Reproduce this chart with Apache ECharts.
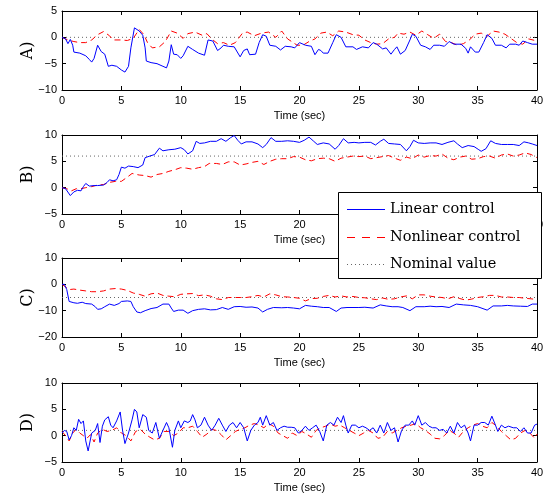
<!DOCTYPE html>
<html>
<head>
<meta charset="utf-8">
<script src="https://cdn.jsdelivr.net/npm/echarts@6/dist/echarts.min.js"></script>
<style>html,body{margin:0;padding:0;background:#fff}#c{width:552px;height:495px}</style>
</head>
<body>
<div id="c"></div>
<script>
// ---- data (time in seconds, value) ----
const seriesNames = ['Linear control', 'Nonlinear control', 'Nominal value'];
const panelLabels = ['A)', 'B)', 'C)', 'D)'];
const xRange = [0, 40, 5];
const yRanges = [[-10, 5, 5], [-5, 10, 5], [-20, 10, 10], [-5, 10, 5]];
const nominalValues = [0, 6, -5, 1];

const linA = [[0,0],[0.3,-0.3],[0.5,-1.2],[0.7,-0.4],[0.9,-1.5],[1.0,-2.8],[1.5,-3.0],[2.0,-3.5],[2.3,-4.2],[2.5,-4.7],[2.7,-4.0],[3.0,-1.5],[3.3,-2.7],[3.6,-3.2],[3.9,-5.5],[4.2,-5.3],[4.6,-5.5],[5.0,-6.2],[5.3,-6.6],[5.6,-5.5],[5.8,-2],[6.1,1.8],[6.5,1.2],[6.8,0.4],[7.0,-2],[7.1,-4.5],[7.5,-4.8],[8.0,-5.0],[8.5,-5.5],[8.8,-5.8],[9.0,-4.5],[9.2,-1.4],[9.4,-3.2],[9.7,-3.3],[10.0,-4.0],[10.2,-3.5],[10.6,-1.7],[11.0,-2.3],[11.5,-3.0],[12.0,-3.4],[12.3,-0.5],[12.7,-0.7],[13.1,-2.5],[13.4,-2.0],[13.6,-1.5],[14.0,-1.7],[14.5,-1.8],[15.0,-3.7],[15.3,-2.5],[15.6,-2.2],[15.8,-3.3],[16.3,-3.2],[16.6,-1],[16.9,0.5],[17.2,0.2],[17.5,-1.5],[18.0,-1.7],[18.4,-2.4],[18.8,-1.7],[19.3,-1.8],[19.6,-2.0],[20.0,-1.0],[20.5,-1.5],[21.0,-1.7],[21.3,-3.3],[21.6,-2.3],[21.8,-2.5],[22.0,-3.0],[22.4,-3.0],[22.8,-1.0],[23.1,0.5],[23.5,0],[23.9,-1.8],[24.5,-1.8],[24.8,-2.3],[25.3,-1.8],[25.8,-2.0],[26.2,-1.0],[26.5,-1.3],[27.0,-2.2],[27.3,-2.0],[27.7,-3.2],[28.0,-2.3],[28.2,-1.8],[28.5,-3.2],[28.9,-2.5],[29.3,-0.5],[29.5,0.6],[29.8,0.2],[30.2,-1.5],[30.6,-1.8],[31.0,-2.3],[31.3,-1.5],[31.8,-1.5],[32.2,-1.7],[32.6,-0.8],[33.0,-1.3],[33.6,-1.3],[34.0,-2.1],[34.2,-3.0],[34.4,-1.8],[34.8,-2.8],[35.1,-2.8],[35.5,-1],[35.8,0.5],[36.2,-0.2],[36.5,-1.5],[37.0,-1.5],[37.4,-2.0],[37.7,-1.3],[38.2,-1.3],[38.5,-1.5],[38.8,-0.7],[39.2,-1.0],[39.6,-1.3],[40,-1.3]];
const nonA = [[0,0],[0.5,-0.5],[1,-0.8],[1.5,-1.0],[2,-1.0],[2.5,-0.5],[3,0.5],[3.5,1.1],[4,0.3],[4.3,-0.5],[5,-0.5],[5.5,-0.6],[6,-0.2],[6.5,1.5],[6.9,0.5],[7.2,-1.0],[7.6,-2.0],[8.2,-1.8],[8.7,-0.8],[9.2,1.2],[9.7,0.8],[10.2,-0.2],[10.6,0.7],[11.2,1.0],[11.8,0.4],[12.2,0.7],[12.6,-0.3],[13.1,-1.2],[13.6,-1.0],[14.1,-1.5],[14.6,-1.0],[15.2,0.8],[15.6,1.0],[16.2,0.3],[16.8,0.8],[17.4,1.0],[18.0,0.0],[18.5,1.2],[19,-0.3],[19.8,-1.5],[20.3,-1.5],[20.8,-0.8],[21.3,-0.3],[21.8,0.8],[22.3,1.0],[22.8,0.3],[23.3,1.2],[23.9,1.0],[24.5,0.5],[25.0,0.4],[25.5,-0.5],[26.0,-1.0],[26.5,-1.3],[27.0,-1.2],[27.5,-0.3],[28.0,0.0],[28.3,0.8],[28.8,0.6],[29.3,1.0],[29.8,0.4],[30.3,1.2],[30.8,0.5],[31.3,-0.2],[31.8,0.6],[32.3,-0.8],[32.8,-1.0],[33.3,-1.5],[33.8,-1.2],[34.3,-0.5],[34.8,0.6],[35.3,0.8],[35.8,0.2],[36.3,1.2],[36.8,1.0],[37.3,0.6],[37.8,-0.2],[38.3,-1.0],[38.8,-1.3],[39.3,-0.3],[40,-0.7]];

const linB = [[0,0],[0.3,-0.2],[0.7,-1.5],[1.0,-0.8],[1.3,-0.5],[1.6,-0.6],[1.8,0.2],[2.0,0.8],[2.3,0.3],[2.7,0.4],[3.0,0.4],[3.5,0.5],[3.8,1.0],[4.0,1.5],[4.3,1.3],[4.6,1.5],[4.8,2.5],[5.0,3.9],[5.3,3.7],[5.6,4.1],[6.0,4.0],[6.4,3.8],[6.8,4.3],[7.0,5.7],[7.4,6.0],[7.8,6.3],[8.2,7.5],[8.5,7.0],[9.0,7.2],[9.5,7.3],[10.0,7.6],[10.3,7.2],[10.6,6.4],[11.0,7.0],[11.3,8.8],[11.6,8.4],[12.0,8.5],[12.5,8.8],[13.0,8.8],[13.4,9.3],[13.8,8.8],[14.2,9.5],[14.5,9.9],[14.8,9.0],[15.1,8.3],[15.5,8.7],[16.0,8.7],[16.5,8.3],[16.9,7.6],[17.2,8.2],[17.6,9.5],[18.0,8.8],[18.5,8.8],[19.0,8.9],[19.5,8.8],[20.0,8.6],[20.4,9.0],[20.8,9.6],[21.2,8.8],[21.5,8.2],[22.0,8.5],[22.5,8.3],[23.0,7.3],[23.3,8.0],[23.7,9.3],[24.1,8.5],[24.6,8.6],[25.0,8.5],[25.5,8.6],[26.0,8.6],[26.4,8.1],[26.8,8.8],[27.1,9.2],[27.5,8.4],[28.0,8.3],[28.5,8.2],[29.0,7.0],[29.3,7.8],[29.6,9.0],[30.0,8.5],[30.5,8.4],[31.0,8.5],[31.5,8.5],[32.0,8.2],[32.5,8.6],[33.0,8.9],[33.3,8.3],[33.7,7.6],[34.2,8.0],[34.7,7.8],[35.1,7.2],[35.3,6.9],[35.7,7.4],[36.1,8.9],[36.5,8.4],[37.0,8.2],[37.5,8.2],[38.0,8.2],[38.5,8.0],[38.9,8.7],[39.3,8.5],[39.6,8.3],[40,8.0]];
const nonB = [[0,0],[0.4,-0.2],[0.8,-0.6],[1.2,-0.2],[1.6,-0.2],[2.0,0],[2.5,0.2],[3.0,0.5],[3.5,0.6],[4.0,1.0],[4.5,1.2],[5.0,1.2],[5.5,2.0],[5.9,2.7],[6.5,2.4],[7.0,2.3],[7.5,2.0],[8.0,2.5],[8.5,2.7],[9.0,3.1],[9.5,3.4],[10.0,3.8],[10.5,3.7],[11.0,3.5],[11.5,3.8],[12.0,4.0],[12.4,4.6],[13.0,4.6],[13.5,4.4],[14.0,4.9],[14.5,4.9],[15.0,4.3],[15.5,4.5],[16.0,4.8],[16.5,5.0],[17.0,4.4],[17.5,5.0],[18.0,5.4],[18.5,5.5],[19.0,5.5],[19.5,5.9],[20.0,5.8],[20.5,5.3],[21.0,5.1],[21.5,5.5],[22.0,5.6],[22.5,5.5],[23.0,5.0],[23.5,5.6],[24.0,5.8],[24.5,6.0],[25.0,5.9],[25.5,6.0],[26.0,5.5],[26.5,5.7],[27.0,5.9],[27.5,6.1],[28.0,5.6],[28.5,5.2],[29.0,5.8],[29.5,5.5],[30.0,6.2],[30.5,5.8],[31.0,6.1],[31.5,6.0],[32.0,6.4],[32.5,5.6],[33.0,5.3],[33.5,5.8],[34.0,6.0],[34.5,5.4],[35.0,5.5],[35.5,5.9],[36.0,6.0],[36.5,5.6],[37.0,6.2],[37.5,6.4],[38.0,6.0],[38.5,6.2],[39.0,6.6],[39.5,6.3],[40,5.7]];

const linC = [[0,0],[0.2,0],[0.4,-2],[0.6,-6.5],[1.0,-7.0],[1.3,-7.2],[1.7,-6.8],[2.0,-7.3],[2.5,-7.5],[2.8,-8.5],[3.0,-9.5],[3.3,-9.3],[3.6,-8.5],[4.0,-7.5],[4.4,-8.0],[4.8,-7.3],[5.0,-6.5],[5.5,-6.3],[5.8,-6.5],[6.0,-8.5],[6.3,-10.5],[6.6,-10.8],[7.0,-10.0],[7.5,-9.2],[8.0,-8.8],[8.5,-7.5],[9.0,-7.5],[9.2,-9.0],[9.4,-10.3],[9.8,-9.8],[10.2,-9.8],[10.6,-11.0],[11.0,-10.0],[11.5,-9.5],[12.0,-9.3],[12.5,-9.7],[13.0,-9.6],[13.5,-8.8],[14.0,-9.5],[14.5,-8.5],[15.0,-8.4],[15.5,-8.7],[16.0,-8.6],[16.5,-9.0],[16.9,-10.5],[17.3,-9.5],[17.8,-8.8],[18.5,-8.9],[19.0,-8.8],[19.5,-9.0],[20.0,-9.3],[20.5,-8.0],[21.0,-8.3],[21.5,-8.5],[22.0,-8.8],[22.5,-8.8],[23.1,-10.3],[23.5,-9.0],[24.0,-8.8],[25.0,-8.8],[25.5,-8.7],[26.2,-9.0],[26.8,-7.8],[27.3,-8.2],[27.8,-8.5],[28.3,-8.5],[28.7,-8.8],[29.3,-10.0],[29.8,-8.5],[30.5,-8.5],[31.0,-8.3],[31.5,-8.5],[32.0,-8.4],[32.6,-8.8],[33.2,-7.5],[33.8,-7.8],[34.4,-8.0],[35.0,-8.5],[35.8,-9.8],[36.3,-8.2],[37.0,-8.2],[37.5,-8.0],[38.0,-8.2],[38.6,-8.3],[39.2,-8.4],[39.6,-7.5],[40,-7.5]];
const nonC = [[0,0],[0.3,-1],[0.6,-2.0],[1.0,-1.8],[1.5,-2.2],[2.0,-2.5],[2.5,-2.8],[3.0,-2.8],[3.5,-2.5],[4.0,-1.8],[4.5,-1.6],[5.0,-1.8],[5.5,-2.3],[6.0,-3.3],[6.5,-3.8],[7.0,-4.5],[7.5,-3.6],[8.0,-3.3],[8.5,-4.2],[9.0,-4.5],[9.5,-4.7],[10.0,-3.8],[10.5,-3.6],[11.0,-3.5],[11.5,-4.3],[12.0,-4.0],[12.5,-4.5],[13.0,-5.5],[13.5,-5.8],[14.0,-5.0],[15.0,-5.0],[15.5,-5.0],[16.0,-4.7],[16.5,-4.2],[17.0,-4.8],[17.5,-3.6],[18.0,-4.0],[18.5,-4.7],[19.0,-4.8],[19.5,-5.0],[20.0,-5.3],[20.5,-6.3],[21.0,-5.4],[21.5,-5.3],[22.0,-4.6],[22.5,-4.2],[23.0,-4.8],[23.5,-4.4],[24.0,-4.8],[24.5,-4.6],[25.0,-5.0],[25.5,-5.1],[26.0,-5.5],[26.5,-5.8],[27.0,-5.2],[27.5,-5.7],[28.0,-5.5],[28.5,-4.8],[29.0,-4.4],[29.5,-5.5],[30.0,-4.0],[30.5,-4.0],[31.0,-4.5],[31.5,-4.8],[32.0,-5.0],[32.5,-5.5],[33.0,-4.7],[33.5,-5.4],[34.0,-6.0],[34.5,-5.6],[35.0,-5.0],[35.5,-4.7],[36.0,-4.2],[36.5,-4.2],[37.0,-4.8],[37.5,-4.8],[38.0,-5.0],[38.5,-5.0],[39.0,-5.3],[39.5,-5.5],[40,-5.8]];

const linD = [[0,0.5],[0.2,1.0],[0.4,0.8],[0.6,-0.8],[0.8,0],[1.0,1.5],[1.2,1.0],[1.4,3.1],[1.6,2.3],[1.8,2.8],[1.9,2.5],[2.0,-1.0],[2.2,-2.9],[2.5,0.5],[2.8,1.0],[3.0,2.3],[3.2,-1.3],[3.4,1.8],[3.6,3.0],[3.9,3.6],[4.1,2.0],[4.3,1.5],[4.6,2.8],[4.9,4.5],[5.1,1.0],[5.3,-1.5],[5.6,0.5],[5.9,3.0],[6.1,5.0],[6.3,4.5],[6.5,1.5],[6.8,4.0],[7.1,3.5],[7.3,1.0],[7.6,0.5],[7.9,2.5],[8.2,-0.5],[8.5,1.0],[8.8,2.5],[9.0,1.5],[9.3,-2.2],[9.5,1.0],[9.8,2.8],[10.0,1.5],[10.3,2.8],[10.6,2.5],[10.8,2.8],[11.0,4.0],[11.2,3.0],[11.4,1.5],[11.7,2.0],[12.0,3.5],[12.3,2.0],[12.6,1.0],[12.9,2.0],[13.2,3.3],[13.5,2.0],[13.8,0.8],[14.1,2.0],[14.4,2.5],[14.7,1.5],[15.0,2.5],[15.3,1.5],[15.6,-1.0],[15.9,1.0],[16.2,2.0],[16.5,2.5],[16.7,3.5],[16.9,2.0],[17.2,3.8],[17.5,2.0],[17.8,2.5],[18.1,1.0],[18.4,1.5],[18.7,1.8],[19.0,1.6],[19.3,1.6],[19.6,1.5],[19.9,0.5],[20.2,1.0],[20.5,1.8],[20.8,1.0],[21.1,1.5],[21.4,2.0],[21.7,0.8],[22.0,-1.0],[22.3,2.0],[22.6,2.5],[22.9,2.0],[23.2,3.5],[23.5,2.5],[23.7,3.8],[23.9,2.0],[24.1,0.5],[24.4,2.0],[24.7,2.0],[25.0,1.5],[25.3,1.8],[25.6,1.5],[25.9,1.0],[26.2,1.5],[26.5,0.5],[26.8,2.0],[27.1,0.5],[27.4,2.5],[27.7,1.0],[28.0,1.5],[28.3,-1.2],[28.6,1.0],[28.9,2.0],[29.2,2.0],[29.5,2.8],[29.7,2.0],[30.0,3.8],[30.3,2.0],[30.6,2.5],[30.9,1.8],[31.2,1.5],[31.5,1.5],[31.8,1.0],[32.1,1.2],[32.4,0.5],[32.7,1.8],[33.0,0.5],[33.3,2.5],[33.6,1.5],[33.9,2.0],[34.2,0.5],[34.4,-1.0],[34.7,2.0],[35.0,2.0],[35.3,2.5],[35.6,2.5],[35.9,2.0],[36.2,3.7],[36.5,2.0],[36.7,0.8],[37.0,2.0],[37.3,1.5],[37.6,1.8],[38.0,1.5],[38.3,1.5],[38.6,0.8],[38.9,1.5],[39.2,0.5],[39.5,0.5],[39.8,2.0],[40,2.2]];
const nonD = [[0,0.8],[0.3,0],[0.6,-1.0],[0.9,0.5],[1.2,1.2],[1.5,0.5],[1.8,0.0],[2.1,-0.5],[2.4,0.2],[2.7,-1.2],[3.0,0.5],[3.4,1.2],[3.8,0.8],[4.2,1.0],[4.6,1.5],[5.0,0.5],[5.4,0.0],[5.8,-1.0],[6.2,0.8],[6.6,1.2],[7.0,0.3],[7.4,-0.3],[7.8,-0.8],[8.2,-0.5],[8.6,0.8],[9.0,0.8],[9.4,0.0],[9.8,0.5],[10.2,1.5],[10.6,1.5],[11.0,1.8],[11.4,0.8],[11.8,-0.3],[12.2,0.3],[12.6,1.2],[13.0,1.0],[13.4,0.2],[13.8,-0.8],[14.2,0.0],[14.6,0.8],[15.0,1.2],[15.4,1.5],[15.8,2.0],[16.2,2.3],[16.6,2.0],[17.0,1.5],[17.4,2.3],[17.8,1.8],[18.2,0.5],[18.6,0.0],[19.0,-0.5],[19.4,0.5],[19.8,0.0],[20.2,0.8],[20.6,0.3],[21.0,-0.3],[21.4,1.0],[21.8,1.5],[22.2,1.8],[22.6,2.2],[23.0,1.8],[23.4,2.0],[23.8,1.5],[24.2,1.0],[24.6,0.5],[25.0,0.0],[25.4,0.5],[25.8,1.0],[26.2,0.5],[26.6,-0.5],[27.0,-0.3],[27.4,0.8],[27.8,0.5],[28.2,1.0],[28.6,1.5],[29.0,1.8],[29.4,2.0],[29.8,2.3],[30.2,1.5],[30.6,1.0],[31.0,0.3],[31.4,-0.5],[31.8,-0.6],[32.2,0.0],[32.6,1.0],[33.0,0.5],[33.4,-0.3],[33.8,0.8],[34.2,1.5],[34.6,2.0],[35.0,2.3],[35.4,1.8],[35.8,1.5],[36.2,2.5],[36.6,1.8],[37.0,0.8],[37.4,0.0],[37.8,-0.8],[38.2,-0.5],[38.6,0.5],[39.0,1.0],[39.4,0.5],[39.8,-0.5],[40,0.3]];

const linearData = [linA, linB, linC, linD];
const nonlinearData = [nonA, nonB, nonC, nonD];

// ---- layout / style ----
const gridTops = [11, 135, 258, 383];
const gridHeights = [79, 79, 79, 79];
const tickFont = 'Liberation Sans, Arial, sans-serif';
const serifFont = 'DejaVu Serif, serif';
const minus = v => String(v).replace('-', '\u2212');
const seriesColors = ['#0000ff', '#ff0000', '#666666'];
const seriesDash = ['solid', [6, 4], [1, 3]];
const legendDash = [null, [8, 7], [1, 3]];
const legendBox = { x: 338, y: 192, w: 203, h: 86, rowY: [209, 237, 264] };

const grids = [], xAxes = [], yAxes = [], series = [];
for (let i = 0; i < 4; i++) {
  grids.push({ left: 62, width: 475, top: gridTops[i], height: gridHeights[i] });
  const axLine = { show: true, onZero: false, lineStyle: { color: '#000', width: 1 } };
  const tick = { show: true, inside: true, length: 4, lineStyle: { color: '#000', width: 1 } };
  xAxes.push({
    type: 'value', gridIndex: i, position: 'bottom', min: xRange[0], max: xRange[1], interval: xRange[2],
    axisLine: axLine, axisTick: tick, splitLine: { show: false },
    axisLabel: { color: '#000', fontSize: 11, fontFamily: tickFont, margin: 5 },
    name: 'Time (sec)', nameLocation: 'middle', nameGap: 20,
    nameTextStyle: { color: '#000', fontSize: 11, fontFamily: tickFont }
  });
  xAxes.push({
    type: 'value', gridIndex: i, position: 'top', min: xRange[0], max: xRange[1], interval: xRange[2],
    axisLine: axLine, axisTick: tick, splitLine: { show: false }, axisLabel: { show: false }
  });
  const yr = yRanges[i];
  yAxes.push({
    type: 'value', gridIndex: i, position: 'left', min: yr[0], max: yr[1], interval: yr[2],
    axisLine: axLine, axisTick: tick, splitLine: { show: false },
    axisLabel: { color: '#000', fontSize: 11, fontFamily: tickFont, margin: 5, formatter: minus },
    name: panelLabels[i], nameLocation: 'middle', nameGap: 26, nameRotate: 90, nameMoveOverlap: false,
    nameTextStyle: { color: '#000', fontSize: 16, fontFamily: serifFont }
  });
  yAxes.push({
    type: 'value', gridIndex: i, position: 'right', min: yr[0], max: yr[1], interval: yr[2],
    axisLine: axLine, axisTick: tick, splitLine: { show: false }, axisLabel: { show: false }
  });
  const datasets = [linearData[i], nonlinearData[i], [[xRange[0], nominalValues[i]], [xRange[1], nominalValues[i]]]];
  for (let k = 0; k < 3; k++) {
    series.push({
      name: seriesNames[k], type: 'line', xAxisIndex: 2 * i, yAxisIndex: 2 * i,
      data: datasets[k], symbol: 'none', animation: false, z: 3 - k,
      lineStyle: { color: seriesColors[k], width: 1, type: seriesDash[k] },
      itemStyle: { color: seriesColors[k] }
    });
  }
}

// legend drawn as a graphic box (MATLAB-style legend), above the axes
const legendChildren = [{
  type: 'rect', z: 100,
  shape: { x: legendBox.x + 0.5, y: legendBox.y + 0.5, width: legendBox.w, height: legendBox.h },
  style: { fill: '#ffffff', stroke: '#000000', lineWidth: 1 }
}];
seriesNames.forEach((n, k) => {
  const y = legendBox.rowY[k] + 0.5;
  legendChildren.push({
    type: 'line', z: 101,
    shape: { x1: legendBox.x + 9, y1: y, x2: legendBox.x + 47, y2: y },
    style: { stroke: seriesColors[k], lineWidth: 1.2, lineDash: legendDash[k] }
  });
  legendChildren.push({
    type: 'text', z: 101,
    x: legendBox.x + 52, y: legendBox.rowY[k],
    style: { text: n, fill: '#000', font: '14.5px "DejaVu Serif", serif', verticalAlign: 'middle', textVerticalAlign: 'middle' }
  });
});

const chart = echarts.init(document.getElementById('c'), null, { renderer: 'canvas' });
chart.setOption({
  backgroundColor: '#fff',
  animation: false,
  grid: grids, xAxis: xAxes, yAxis: yAxes, series: series,
  graphic: { elements: [{ type: 'group', z: 100, children: legendChildren }] }
});
</script>
</body>
</html>
